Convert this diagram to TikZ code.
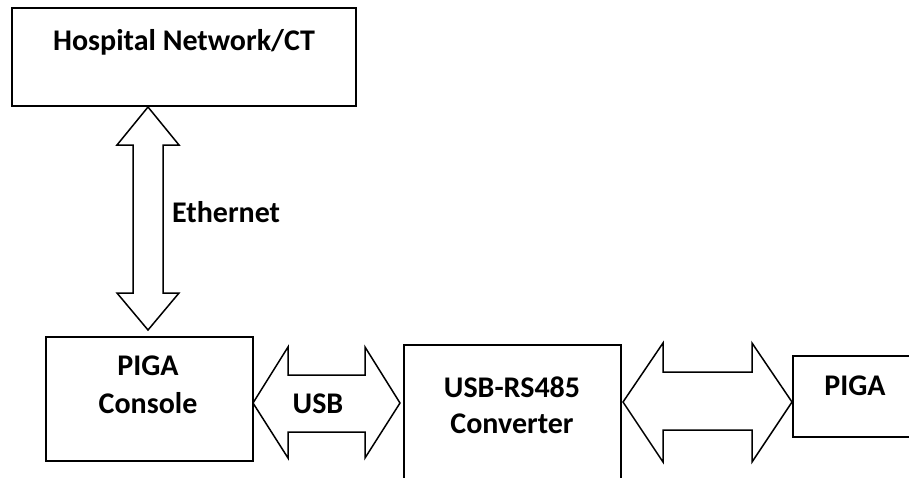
\documentclass[tikz,border=0pt]{standalone}
\usepackage{fontspec}
\setmainfont{Carlito}
\begin{document}
\begin{tikzpicture}[x=1pt,y=-1pt,
  box/.style={draw=black,line width=1.5pt,fill=white,rectangle,inner sep=0pt,anchor=north west},
  lbl/.style={font=\fontsize{30}{36}\selectfont\bfseries,inner sep=0pt,anchor=base},
  blockarrow/.style={draw=black,line width=1.5pt,fill=white,line join=miter}]
\useasboundingbox (0,0) rectangle (909,477);
\fill[white] (0,0) rectangle (909,477);
\clip (0,0) rectangle (909,477);
% boxes
\node[box,minimum width=344pt,minimum height=98pt] (hosp) at (11,7) {};
\node[box,minimum width=207pt,minimum height=124pt] (console) at (45,336) {};
\node[box,minimum width=217pt,minimum height=150pt] (conv) at (403,344) {};
\node[box,minimum width=140pt,minimum height=81pt] (piga) at (792,355) {};
% texts
\node[lbl] (thosp) at (184,50) {Hospital Network/CT};
\node[lbl] (tcon1) at (148,375) {PIGA};
\node[lbl] (tcon2) at (148,413) {Console};
\node[lbl] (tconv1) at (512,397) {USB-RS485};
\node[lbl] (tconv2) at (512,433) {Converter};
\node[lbl] (tpiga) at (855,395) {PIGA};
% Ethernet arrow
\coordinate (e1) at (148,107);
\coordinate (e2) at (148,330);
\draw[blockarrow] (e1) -- ++(31,38) -- ++(-16,0) -- ++(0,148) -- ++(16,0) -- (e2)
   -- ++(-31,-37) -- ++(16,0) -- ++(0,-148) -- ++(-16,0) -- cycle;
\node[lbl,anchor=base west] (teth) at (172,222) {Ethernet};
% USB arrow
\coordinate (u1) at (253,403);
\coordinate (u2) at (400,403);
\draw[blockarrow] (u1) -- (288,347) -- (288,375) -- (365,375) -- (365,347) -- (u2)
   -- (365,458) -- (365,432) -- (288,432) -- (288,458) -- cycle;
\node[lbl] (tusb) at (318,413) {USB};
% RS485 arrow
\coordinate (r1) at (623,402);
\coordinate (r2) at (792,402);
\draw[blockarrow] (r1) -- (663,343) -- (663,372) -- (752,372) -- (752,343) -- (r2)
   -- (752,462) -- (752,430) -- (663,430) -- (663,462) -- cycle;
\end{tikzpicture}
\end{document}
